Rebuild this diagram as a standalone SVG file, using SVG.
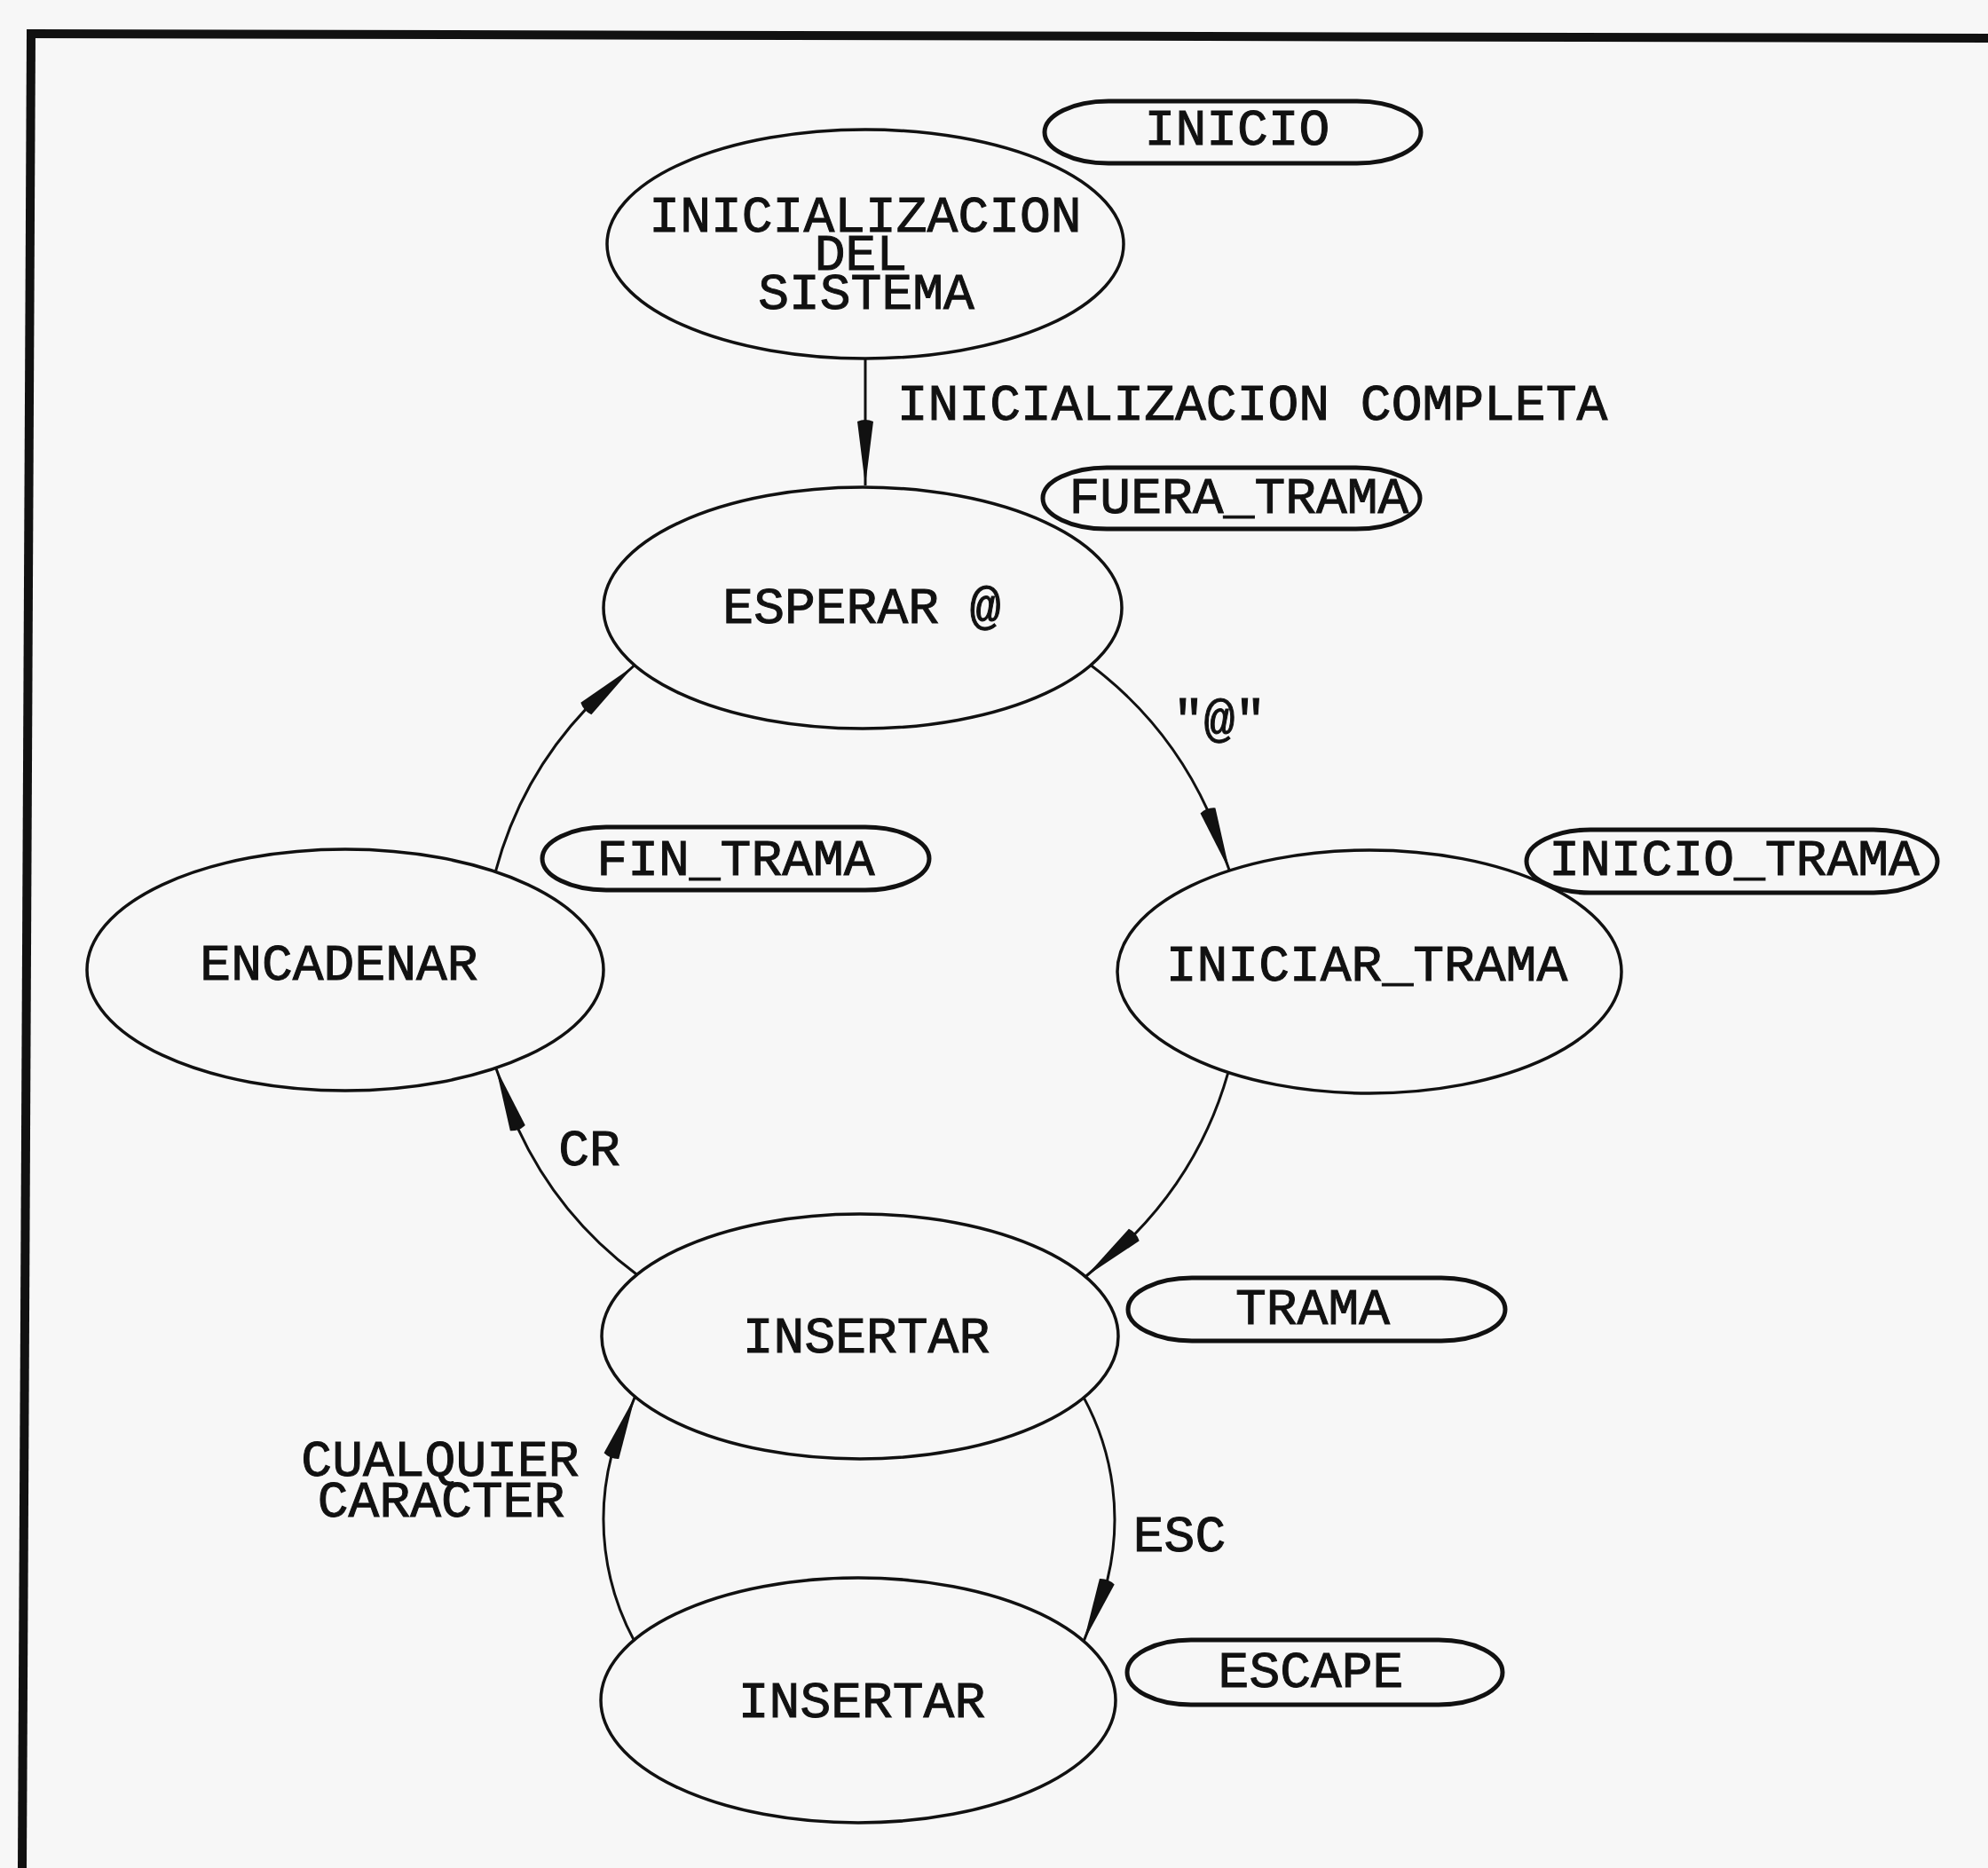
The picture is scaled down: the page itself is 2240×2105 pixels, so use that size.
<svg xmlns="http://www.w3.org/2000/svg" width="2240" height="2105" viewBox="0 0 2240 2105">
  <style>
    .state { fill: none; stroke: #111; stroke-width: 3.5; }
    .tag { fill: none; stroke: #111; stroke-width: 5; }
    .edge { fill: none; stroke: #111; stroke-width: 3; }
    .frame { fill: none; stroke: #111; stroke-width: 10; stroke-linecap: square; }
    text { font-family: "Liberation Mono", "DejaVu Sans Mono", monospace; font-size: 58px; fill: #111; stroke: #111; stroke-width: 1; text-anchor: middle; }
  </style>
  <defs>
    <marker id="arrow" markerUnits="userSpaceOnUse" viewBox="-76 -10 78 20" markerWidth="78" markerHeight="20" refX="0" refY="0" orient="auto">
      <path d="M0,0 L-72,-9 Q-76,0 -72,9 Z" fill="#111"/>
    </marker>
  </defs>

  <rect x="0" y="0" width="2240" height="2105" fill="#f7f7f7"/>

  <!-- page frame -->
  <g id="frame">
    <path class="frame" d="M35,38 L2240,43"/>
    <path class="frame" d="M35,38 L25,2105"/>
  </g>

  <!-- transitions -->
  <g id="connectors">
    <path class="edge" d="M975,404 L975,547" marker-end="url(#arrow)"/>
    <path class="edge" d="M1229.6,750 A428,428 0 0 1 1361,913.6 L1385.4,981.2" marker-end="url(#arrow)"/>
    <path class="edge" d="M1383.6,1209.3 A428,428 0 0 1 1277.8,1391.5 L1223.3,1438.5" marker-end="url(#arrow)"/>
    <path class="edge" d="M717.6,1436.2 A428,428 0 0 1 583.3,1271.1 L558.8,1203.5" marker-end="url(#arrow)"/>
    <path class="edge" d="M558.3,982.3 A428,428 0 0 1 661.4,797.6 L714,750.5" marker-end="url(#arrow)"/>
    <path class="edge" d="M1221,1574.6 A288,288 0 0 1 1247.2,1782.6 L1221.1,1849.4" marker-end="url(#arrow)"/>
    <path class="edge" d="M714.2,1848.1 A288,288 0 0 1 689,1640.4 L715.5,1573.7" marker-end="url(#arrow)"/>

    <text x="1411" y="473">INICIALIZACION COMPLETA</text>
    <text x="1374" y="829">"@"</text>
    <text x="664" y="1313">CR</text>
    <text x="1329" y="1748">ESC</text>
    <text><tspan x="496" y="1663">CUALQUIER</tspan><tspan x="497" y="1709">CARACTER</tspan></text>
  </g>

  <!-- states -->
  <g id="inicializacion">
    <ellipse class="state" cx="975" cy="275" rx="291" ry="129"/>
    <text><tspan x="975" y="261">INICIALIZACION</tspan><tspan x="970" y="304">DEL</tspan><tspan x="976" y="348">SISTEMA</tspan></text>
  </g>
  <g id="esperar">
    <ellipse class="state" cx="972" cy="685" rx="292" ry="136"/>
    <text x="971" y="702">ESPERAR @</text>
  </g>
  <g id="encadenar">
    <ellipse class="state" cx="389" cy="1093" rx="291" ry="136"/>
    <text x="382" y="1104">ENCADENAR</text>
  </g>
  <g id="iniciar_trama">
    <ellipse class="state" cx="1543" cy="1095" rx="284" ry="137"/>
    <text x="1540" y="1105">INICIAR_TRAMA</text>
  </g>
  <g id="insertar_trama">
    <ellipse class="state" cx="969" cy="1506" rx="291" ry="138"/>
    <text x="976" y="1524">INSERTAR</text>
  </g>
  <g id="insertar_escape">
    <ellipse class="state" cx="967" cy="1916" rx="290" ry="138"/>
    <text x="971" y="1935">INSERTAR</text>
  </g>

  <!-- state tags -->
  <g id="tag_inicio">
    <rect class="tag" x="1177" y="114" width="424" height="70" rx="72" ry="35"/>
    <text x="1394" y="163">INICIO</text>
  </g>
  <g id="tag_fuera_trama">
    <rect class="tag" x="1175" y="527" width="425" height="69" rx="72" ry="34.5"/>
    <text x="1396" y="578">FUERA_TRAMA</text>
  </g>
  <g id="tag_fin_trama">
    <rect class="tag" x="611" y="932" width="436" height="71" rx="72" ry="35.5"/>
    <text x="829" y="986">FIN_TRAMA</text>
  </g>
  <g id="tag_inicio_trama">
    <rect class="tag" x="1720" y="935" width="463" height="71" rx="72" ry="35.5"/>
    <text x="1954" y="986">INICIO_TRAMA</text>
  </g>
  <g id="tag_trama">
    <rect class="tag" x="1271" y="1440" width="425" height="71" rx="72" ry="35.5"/>
    <text x="1479" y="1492">TRAMA</text>
  </g>
  <g id="tag_escape">
    <rect class="tag" x="1270" y="1848" width="423" height="73" rx="72" ry="36.5"/>
    <text x="1477" y="1901">ESCAPE</text>
  </g>
</svg>
